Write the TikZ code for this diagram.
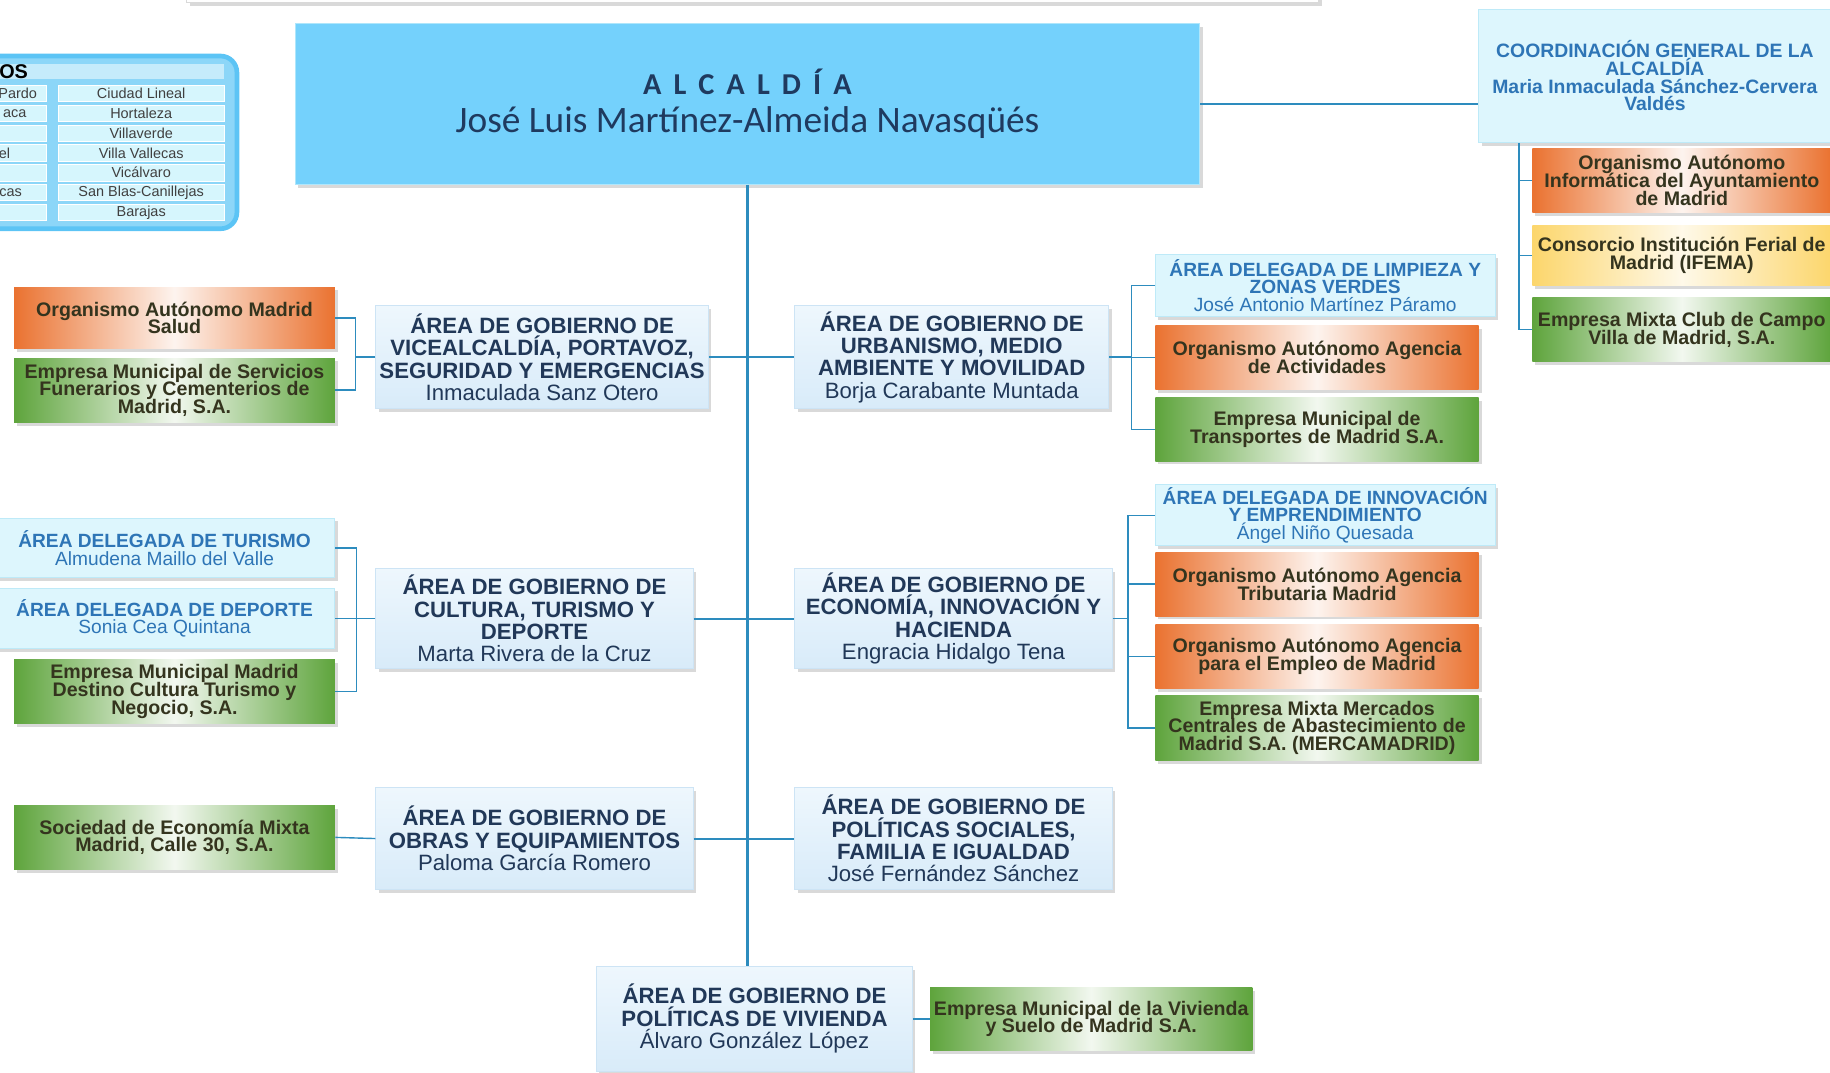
\documentclass[tikz,border=0pt]{standalone}
\usepackage{fontspec}
\setmainfont{Liberation Sans}
\newfontfamily\alcfont{Carlito}
\newfontfamily\alcspaced[LetterSpace=40]{Carlito}
\definecolor{alcfill}{RGB}{116, 209, 252}
\definecolor{alcedge}{RGB}{175, 230, 251}
\definecolor{alctext}{RGB}{31, 58, 95}
\definecolor{areatop}{RGB}{238, 247, 253}
\definecolor{areabot}{RGB}{216, 235, 249}
\definecolor{areaedge}{RGB}{205, 228, 245}
\definecolor{areatext}{RGB}{33, 56, 88}
\definecolor{delfill}{RGB}{221, 246, 253}
\definecolor{deledge}{RGB}{190, 234, 248}
\definecolor{deltext}{RGB}{46, 117, 182}
\definecolor{orgc}{RGB}{234, 114, 48}
\definecolor{grnc}{RGB}{94, 164, 60}
\definecolor{yelc}{RGB}{252, 214, 108}
\definecolor{subtext}{RGB}{52, 52, 30}
\definecolor{linec}{RGB}{45, 140, 190}
\definecolor{legfill}{RGB}{140, 214, 248}
\definecolor{legedge}{RGB}{92, 196, 245}
\definecolor{legbar}{RGB}{197, 235, 251}
\definecolor{cellfill}{RGB}{214, 246, 253}
\usepackage{tikz}
\usetikzlibrary{positioning,shadows}
\setlength{\lineskiplimit}{-10pt}

\begin{document}
\begin{tikzpicture}[x=0.5pt, y=-0.5pt,
            base/.style={rectangle, align=center, inner sep=1pt,
                drop shadow={opacity=0.3, shadow xshift=1.2pt, shadow yshift=-1.4pt}},
            alcaldiabox/.style={base, fill=alcfill, draw=alcedge, text=alctext,
                minimum width=387.5pt, minimum height=69pt},
            area/.style={base, top color=areatop, bottom color=areabot, draw=areaedge,
                text=areatext, font=\fontsize{9.5}{9.6}\selectfont\bfseries,
                minimum width=136pt, minimum height=43.5pt},
            delegada/.style={base, fill=delfill, draw=deledge, text=deltext,
                font=\fontsize{8.2}{7.6}\selectfont\bfseries,
                minimum width=145.5pt, minimum height=26pt},
            organismo/.style={base, left color=orgc, right color=orgc, middle color=orgc!8!white,
                text=subtext, font=\fontsize{8.4}{7.6}\selectfont\bfseries,
                minimum width=138.5pt, minimum height=27.5pt, inner xsep=0.5pt},
            empresa/.style={organismo, left color=grnc, right color=grnc, middle color=grnc!8!white},
            consorcio/.style={organismo, left color=yelc, right color=yelc, middle color=yelc!15!white},
            conn/.style={draw=linec, line width=0.6pt},
            trunk/.style={draw=linec, line width=0.9pt},
            cell/.style={rectangle, fill=cellfill, draw=white, line width=0.3pt,
                minimum width=71pt, minimum height=7pt, inner sep=0pt,
                text=black!75, font=\fontsize{6.2}{7}\selectfont},
        ]
            \clip (0,0) rectangle (1568,919);

            \node [base, fill=white, draw=black!15, minimum width=485pt, minimum height=20pt] (prev) at (645,-18) {};

            \node [rectangle, rounded corners=7pt, fill=legfill, draw=legedge, line width=2pt,
                minimum width=116.5pt, minimum height=74pt] (distritos) at (86.5,122) {};
            \node [rectangle, fill=legbar, minimum width=111pt, minimum height=6.5pt, inner sep=0pt] (legbar) at (81,61) {};
            \node [anchor=west, inner sep=0pt, font=\fontsize{8.5}{9}\selectfont\bfseries] (legtitle) at (-1,61) {OS};
            \foreach \d [count=\i] in {Ciudad Lineal,Hortaleza,Villaverde,Villa Vallecas,Vicálvaro,San Blas-Canillejas,Barajas} {
                \node [cell] (right\i) at (121,63+17*\i) {\d};
                \node [cell, minimum width=40pt] (left\i) at (0,63+17*\i) {};
            }
            \node [cell, fill=none, draw=none, minimum width=0pt, anchor=east] (pardo) at (32,80) {Pardo};
            \node [cell, fill=none, draw=none, minimum width=0pt, anchor=east] (aravaca) at (23,97) {aca};
            \node [cell, fill=none, draw=none, minimum width=0pt, anchor=east] (carabanchel) at (9,131) {el};
            \node [cell, fill=none, draw=none, minimum width=0pt, anchor=east] (vallecas) at (19,165) {cas};

            \node [alcaldiabox, font=\fontsize{16}{15}\selectfont] (alcaldia) at (640.5,89)
                {{\alcspaced\bfseries\fontsize{13}{15}\selectfont ALCALDÍA}\\[1pt]{\alcfont José Luis Martínez-Almeida Navasqüés}};

            \node [delegada, minimum width=151pt, minimum height=57pt, font=\fontsize{8.3}{7.6}\selectfont\bfseries] (coord) at (1418,65)
                {COORDINACIÓN GENERAL DE LA\\ALCALDÍA\\Maria Inmaculada Sánchez-Cervera\\Valdés};
            \node [organismo, minimum width=128pt] (informatica) at (1441,154.5) {Organismo Autónomo\\Informática del Ayuntamiento\\de Madrid};
            \node [consorcio, minimum width=128pt, minimum height=26pt] (ifema) at (1441,219) {Consorcio Institución Ferial de\\Madrid (IFEMA)};
            \node [empresa, minimum width=128pt] (campo) at (1441,282.5) {Empresa Mixta Club de Campo\\Villa de Madrid, S.A.};

            \node [area, minimum width=142.5pt, minimum height=44pt] (vice) at (464.5,306) {ÁREA DE GOBIERNO DE\\VICEALCALDÍA, PORTAVOZ,\\SEGURIDAD Y EMERGENCIAS\\\mdseries Inmaculada Sanz Otero};
            \node [area, minimum width=134.5pt, minimum height=44pt] (urbanismo) at (815.5,306) {ÁREA DE GOBIERNO DE\\URBANISMO, MEDIO\\AMBIENTE Y MOVILIDAD\\\mdseries Borja Carabante Muntada};
            \node [organismo, minimum width=137.5pt, minimum height=26.5pt] (salud) at (149.5,272.5) {Organismo Autónomo Madrid\\Salud};
            \node [empresa, minimum width=137.5pt] (funerarios) [below=3.5pt of salud] {Empresa Municipal de Servicios\\Funerarios y Cementerios de\\Madrid, S.A.};
            \node [delegada, minimum height=26.5pt] (limpieza) at (1135.5,244.5) {ÁREA DELEGADA DE LIMPIEZA Y\\ZONAS VERDES\\\mdseries José Antonio Martínez Páramo};
            \node [organismo] (actividades) at (1128.5,306.5) {Organismo Autónomo Agencia\\de Actividades};
            \node [empresa, minimum height=27pt] (emt) at (1128.5,368) {Empresa Municipal de\\Transportes de Madrid S.A.};

            \node [area, minimum height=43pt] (cultura) at (458,530) {ÁREA DE GOBIERNO DE\\CULTURA, TURISMO Y\\DEPORTE\\\mdseries Marta Rivera de la Cruz};
            \node [area, minimum height=43pt] (economia) at (817,530) {ÁREA DE GOBIERNO DE\\ECONOMÍA, INNOVACIÓN Y\\HACIENDA\\\mdseries Engracia Hidalgo Tena};
            \node [delegada, minimum width=146pt, minimum height=25.5pt] (turismo) at (141,469.5) {ÁREA DELEGADA DE TURISMO\\\mdseries Almudena Maillo del Valle};
            \node [delegada, minimum width=146pt, minimum height=26pt] (deporte) [below=4pt of turismo] {ÁREA DELEGADA DE DEPORTE\\\mdseries Sonia Cea Quintana};
            \node [empresa, minimum width=137.5pt] (destino) at (149.5,592.5) {Empresa Municipal Madrid\\Destino Cultura Turismo y\\Negocio, S.A.};
            \node [delegada, minimum height=25.5pt] (innovacion) at (1135.5,441.5) {ÁREA DELEGADA DE INNOVACIÓN\\Y EMPRENDIMIENTO\\\mdseries Ángel Niño Quesada};
            \node [organismo] (tributaria) at (1128.5,500.5) {Organismo Autónomo Agencia\\Tributaria Madrid};
            \node [organismo] (empleo) [below=3pt of tributaria] {Organismo Autónomo Agencia\\para el Empleo de Madrid};
            \node [empresa, minimum height=28pt] (mercamadrid) [below=2.5pt of empleo] {Empresa Mixta Mercados\\Centrales de Abastecimiento de\\Madrid S.A. (MERCAMADRID)};

            \node [area] (obras) at (458,718.5) {ÁREA DE GOBIERNO DE\\OBRAS Y EQUIPAMIENTOS\\\mdseries Paloma García Romero};
            \node [area] (sociales) at (817,718.5) {ÁREA DE GOBIERNO DE\\POLÍTICAS SOCIALES,\\FAMILIA E IGUALDAD\\\mdseries José Fernández Sánchez};
            \node [empresa, minimum width=137.5pt] (calle30) at (149.5,717.5) {Sociedad de Economía Mixta\\Madrid, Calle 30, S.A.};

            \node [area, minimum width=135.5pt, minimum height=45pt] (vivienda) at (646.5,873) {ÁREA DE GOBIERNO DE\\POLÍTICAS DE VIVIENDA\\\mdseries Álvaro González López};
            \node [empresa, minimum width=138pt, minimum height=27pt] (emvs) at (935,873) {Empresa Municipal de la Vivienda\\y Suelo de Madrid S.A.};

            \draw [trunk] (alcaldia.south) -- (vivienda.north -| alcaldia.south);
            \draw [trunk] (alcaldia.east) -- (coord.west |- alcaldia.east);
            \draw [trunk] (vice.east) -- (urbanismo.west);
            \draw [trunk] (cultura.east) -- (economia.west);
            \draw [trunk] (obras.east) -- (sociales.west);

            \draw [conn] ([xshift=17.5pt]coord.south west) coordinate (jcoord) |- (campo.west);
            \draw [conn] (informatica.west) -- (informatica.west -| jcoord);
            \draw [conn] (ifema.west) -- (ifema.west -| jcoord);

            \draw [conn] (vice.west) -- ++(-17,0) coordinate (jvice);
            \draw [conn] (salud.east) -| (jvice) |- (funerarios.east);
            \draw [conn] (urbanismo.east) -- ++(19,0) coordinate (jurb);
            \draw [conn] (limpieza.west) -| (jurb) |- (emt.west);
            \draw [conn] (actividades.west) -- (actividades.west -| jurb);

            \draw [conn] (cultura.west) -- ++(-16,0) coordinate (jcult);
            \draw [conn] (turismo.east) -| (jcult) |- (destino.east);
            \draw [conn] (deporte.east) -- (deporte.east -| jcult);
            \draw [conn] (economia.east) -- ++(13,0) coordinate (jeco);
            \draw [conn] (innovacion.west) -| (jeco) |- (mercamadrid.west);
            \draw [conn] (tributaria.west) -- (tributaria.west -| jeco);
            \draw [conn] (empleo.west) -- (empleo.west -| jeco);

            \draw [conn] (calle30.east) -- (obras.west);
            \draw [conn] (vivienda.east) -- (emvs.west);

        \end{tikzpicture}
\end{document}
